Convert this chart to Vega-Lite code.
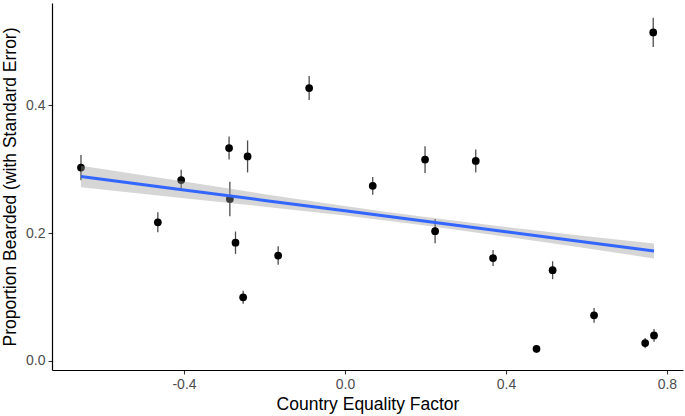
{
  "$schema": "https://vega.github.io/schema/vega-lite/v6.json",
  "width": 631,
  "height": 367,
  "autosize": {"type": "none"},
  "padding": {"left": 52, "top": 3, "right": 2, "bottom": 46},
  "background": "white",
  "config": {
    "view": {"stroke": null},
    "font": "Liberation Sans",
    "axis": {
      "grid": false,
      "domainColor": "black",
      "domainWidth": 1.2,
      "tickColor": "#333333",
      "tickSize": 4,
      "tickWidth": 1.1,
      "labelColor": "#4D4D4D",
      "labelFontSize": 14,
      "labelFont": "Liberation Sans",
      "titleFont": "Liberation Sans",
      "titleFontSize": 17.5,
      "titleFontWeight": "normal",
      "titleColor": "black",
      "labelPadding": 3
    }
  },
  "datasets": {
    "pts": [
      {"x": -0.656, "y": 0.3025, "ymin": 0.2829, "ymax": 0.3221},
      {"x": -0.465, "y": 0.217, "ymin": 0.2013, "ymax": 0.2327},
      {"x": -0.407, "y": 0.283, "ymin": 0.267, "ymax": 0.299},
      {"x": -0.288, "y": 0.333, "ymin": 0.315, "ymax": 0.351},
      {"x": -0.286, "y": 0.2535, "ymin": 0.2265, "ymax": 0.2805},
      {"x": -0.272, "y": 0.185, "ymin": 0.1675, "ymax": 0.2025},
      {"x": -0.242, "y": 0.32, "ymin": 0.295, "ymax": 0.345},
      {"x": -0.253, "y": 0.0997, "ymin": 0.0897, "ymax": 0.1097},
      {"x": -0.166, "y": 0.165, "ymin": 0.1507, "ymax": 0.1793},
      {"x": -0.089, "y": 0.427, "ymin": 0.4082, "ymax": 0.4458},
      {"x": 0.069, "y": 0.274, "ymin": 0.2602, "ymax": 0.2878},
      {"x": 0.199, "y": 0.315, "ymin": 0.294, "ymax": 0.336},
      {"x": 0.224, "y": 0.203, "ymin": 0.184, "ymax": 0.222},
      {"x": 0.325, "y": 0.313, "ymin": 0.295, "ymax": 0.331},
      {"x": 0.368, "y": 0.161, "ymin": 0.1485, "ymax": 0.1735},
      {"x": 0.516, "y": 0.142, "ymin": 0.128, "ymax": 0.156},
      {"x": 0.476, "y": 0.019, "ymin": 0.013, "ymax": 0.025},
      {"x": 0.619, "y": 0.0715, "ymin": 0.06, "ymax": 0.083},
      {"x": 0.746, "y": 0.028, "ymin": 0.02, "ymax": 0.036},
      {"x": 0.768, "y": 0.04, "ymin": 0.03, "ymax": 0.05},
      {"x": 0.766, "y": 0.514, "ymin": 0.491, "ymax": 0.537}
    ],
    "fit": [
      {"x": -0.656, "fit": 0.2886, "lo": 0.2719, "hi": 0.3053},
      {"x": -0.4, "fit": 0.2676, "lo": 0.2546, "hi": 0.2806},
      {"x": -0.2, "fit": 0.2512, "lo": 0.2414, "hi": 0.261},
      {"x": 0.0, "fit": 0.2349, "lo": 0.2274, "hi": 0.2424},
      {"x": 0.1, "fit": 0.2267, "lo": 0.2199, "hi": 0.2335},
      {"x": 0.2, "fit": 0.2185, "lo": 0.2118, "hi": 0.2252},
      {"x": 0.4, "fit": 0.2021, "lo": 0.1945, "hi": 0.2097},
      {"x": 0.6, "fit": 0.1858, "lo": 0.1763, "hi": 0.1953},
      {"x": 0.768, "fit": 0.1721, "lo": 0.1604, "hi": 0.1838}
    ]
  },
  "encoding": {
    "x": {
      "field": "x",
      "type": "quantitative",
      "scale": {"domain": [-0.728, 0.84], "nice": false, "zero": false},
      "axis": {
        "title": "Country Equality Factor",
        "values": [-0.4, 0, 0.4, 0.8],
        "labelExpr": "replace(format(datum.value, '.1f'), '\u2212', '-')",
        "titlePadding": 4
      }
    }
  },
  "layer": [
    {
      "data": {"name": "pts"},
      "mark": {"type": "rule", "color": "#4D4D4D", "strokeWidth": 1.3},
      "encoding": {
        "y": {
          "field": "ymin",
          "type": "quantitative",
          "scale": {"domain": [-0.0141, 0.56], "nice": false, "zero": false},
          "axis": {
            "title": "Proportion Bearded (with Standard Error)",
            "values": [0, 0.2, 0.4],
            "format": ".1f",
            "titlePadding": 6
          }
        },
        "y2": {"field": "ymax"}
      }
    },
    {
      "data": {"name": "pts"},
      "mark": {"type": "point", "filled": true, "color": "black", "opacity": 1, "size": 60},
      "encoding": {
        "y": {"field": "y", "type": "quantitative"}
      }
    },
    {
      "data": {"name": "fit"},
      "mark": {"type": "area", "color": "#999999", "opacity": 0.4},
      "encoding": {
        "y": {"field": "lo", "type": "quantitative"},
        "y2": {"field": "hi"}
      }
    },
    {
      "data": {"name": "fit"},
      "mark": {"type": "line", "color": "#3366FF", "strokeWidth": 3},
      "encoding": {
        "y": {"field": "fit", "type": "quantitative"}
      }
    }
  ]
}
